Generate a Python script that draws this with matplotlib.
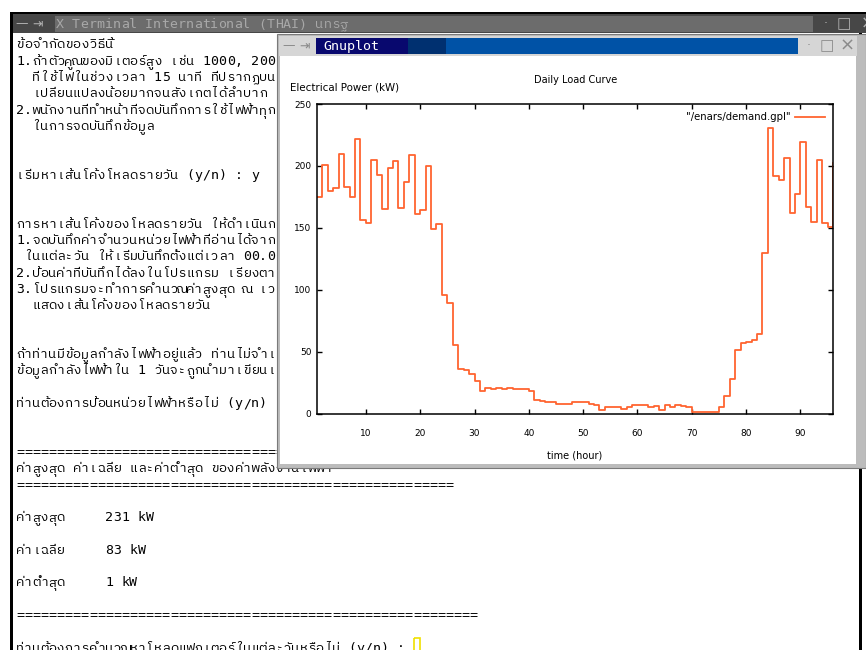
import matplotlib.pyplot as plt
from matplotlib.patches import Rectangle
from matplotlib import font_manager
from matplotlib.ft2font import FT2Font

# data (96 quarter-hour readings, kW)
hours = list(range(1, 97))
demand = [175, 201, 180, 182, 210, 183, 175, 222, 156, 154,
          205, 193, 165, 198, 204, 166, 187, 209, 161, 164,
          200, 149, 153, 96, 89, 55, 36, 35, 32, 26,
          18, 21, 20, 21, 20, 21, 20, 20, 20, 18,
          11, 10, 9, 9, 8, 8, 8, 9, 9, 9,
          8, 7, 3, 5, 5, 5, 4, 5, 7, 7,
          7, 5, 6, 3, 7, 5, 7, 6, 5, 1,
          1, 1, 1, 1, 5, 14, 28, 51, 57, 58,
          59, 64, 130, 231, 192, 189, 206, 162, 177, 219,
          167, 155, 205, 154, 151, 202]
xticks = [10, 20, 30, 40, 50, 60, 70, 80, 90]
yticks = [0, 50, 100, 150, 200, 250]

term_title = "X Terminal International (THAI) นทรฐ"
term_lines = [
    "ข้อจำกัดของวิธีนี้",
    "1.ถ้าตัวคูณของมิเตอร์สูง เช่น 1000, 200",
    "  ที่ใช้ไฟในช่วงเวลา 15 นาที ที่ปรากฏบน",
    "  เปลี่ยนแปลงน้อยมากจนสังเกตได้ลำบาก",
    "2.พนักงานที่ทำหน้าที่จดบันทึกการใช้ไฟฟ้าทุก",
    "  ในการจดบันทึกข้อมูล",
    "",
    "",
    "เริ่มหาเส้นโค้งโหลดรายวัน (y/n) : y",
    "",
    "",
    "การหาเส้นโค้งของโหลดรายวัน ให้ดำเนินก",
    "1.จดบันทึกค่าจำนวนหน่วยไฟฟ้าที่อ่านได้จาก",
    " ในแต่ละวัน ให้เริ่มบันทึกตั้งแต่เวลา 00.0",
    "2.ป้อนค่าที่บันทึกได้ลงในโปรแกรม เรียงตา",
    "3.โปรแกรมจะทำการคำนวณค่าสูงสุด ณ เว",
    "  แสดงเส้นโค้งของโหลดรายวัน",
    "",
    "",
    "ถ้าท่านมีข้อมูลกำลังไฟฟ้าอยู่แล้ว ท่านไม่จำเ",
    "ข้อมูลกำลังไฟฟ้าใน 1 วันจะถูกนำมาเขียนเ",
    "",
    "ท่านต้องการป้อนหน่วยไฟฟ้าหรือไม่ (y/n)",
    "",
    "",
    "=" * 54,
    "ค่าสูงสุด ค่าเฉลี่ย และค่าต่ำสุด ของค่าพลังงานไฟฟ้า",
    "=" * 54,
    "",
    "ค่าสูงสุด     231 kW",
    "",
    "ค่าเฉลี่ย     83 kW",
    "",
    "ค่าต่ำสุด     1 kW",
    "",
    "=" * 57,
    "",
    "ท่านต้องการคำนวณหาโหลดแฟกเตอร์ในแต่ละวันหรือไม่ (y/n) : ",
]

# look for any installed font that has Thai glyphs
thai_font = None
cands = sorted(font_manager.fontManager.ttflist, key=lambda f: 'Thai' not in f.name)
for f in cands:
    try:
        if FT2Font(f.fname).get_char_index(0x0E01):
            thai_font = f.name
            break
    except Exception:
        pass
mono = ['DejaVu Sans Mono'] + ([thai_font] if thai_font else [])

COMBINING = set('\u0e31\u0e34\u0e35\u0e36\u0e37\u0e38\u0e39\u0e3a'
                '\u0e47\u0e48\u0e49\u0e4a\u0e4b\u0e4c\u0e4d\u0e4e')


def cells(s):
    # terminal style: one cell per base char, marks sit on the previous cell
    out = []
    for ch in s:
        if ch in COMBINING and out:
            out[-1] += ch
        else:
            out.append(ch)
    return out


def put_line(a, s, x0, base, cw, **kw):
    cs = cells(s)
    for i, c in enumerate(cs):
        if c.strip():
            a.text(x0 + cw * i + cw / 2, base, c, ha='center', va='baseline', **kw)
    return len(cs)


fig = plt.figure(figsize=(8.66, 6.5), dpi=100)

# ---- terminal window (background) ----
bg = fig.add_axes([0, 0, 1, 1])
bg.set_xlim(0, 866)
bg.set_ylim(650, 0)
bg.axis('off')
bg.add_patch(Rectangle((10, 12), 860, 640, fc='black', ec='none'))
bg.add_patch(Rectangle((13, 14), 856, 19, fc='#474747', ec='none'))
bg.add_patch(Rectangle((55, 16), 758, 16, fc='#6c6c6c', ec='none'))
bg.add_patch(Rectangle((13, 33), 846, 620, fc='white', ec='none'))
bg.add_patch(Rectangle((862, 33), 10, 620, fc='white', ec='none'))
bg.text(22, 24, '—', color='#b0b0b0', fontsize=9, ha='center', va='center')
bg.text(38, 24, '⇥', color='#b0b0b0', fontsize=9, ha='center', va='center')
bg.text(826, 24, '·', color='#b0b0b0', fontsize=9, ha='center', va='center')
bg.text(844, 24, '□', color='#b0b0b0', fontsize=11, ha='center', va='center')
bg.text(861, 24, '×', color='#b0b0b0', fontsize=12, ha='left', va='center')
put_line(bg, term_title, 56, 28.5, 8.1, color='#a8a8a8', fontsize=9.5, family=mono)

cw = 8.1
for i, line in enumerate(term_lines):
    n = put_line(bg, line, 16, 44 + 16.3 * i + 4.5, cw, color='black',
                 fontsize=9.5, family=mono)
# cursor after the last prompt
bg.add_patch(Rectangle((16 + cw * n + 1, 638), cw - 2, 14, fc='none',
                       ec='#f0e000', lw=1.2))

# ---- gnuplot window chrome ----
win = fig.add_axes([0, 0, 1, 1], zorder=1)
win.set_xlim(0, 866)
win.set_ylim(650, 0)
win.axis('off')
win.add_patch(Rectangle((277, 34), 589, 434, fc='#bcbcbc', ec='#7a7a7a', lw=0.8))
win.add_patch(Rectangle((279, 36), 578, 20, fc='#d6d6d6', ec='none'))
win.add_patch(Rectangle((316, 38), 482, 16, fc='#0052a6', ec='none'))
win.add_patch(Rectangle((316, 38), 130, 16, fc='#003070', ec='none'))
win.add_patch(Rectangle((316, 38), 92, 16, fc='#08086e', ec='none'))
win.add_patch(Rectangle((280, 56), 576, 408, fc='white', ec='none'))
win.text(289, 46, '—', color='#8a8a8a', fontsize=9, ha='center', va='center')
win.text(305, 46, '⇥', color='#8a8a8a', fontsize=9, ha='center', va='center')
win.text(809, 46, '·', color='#8a8a8a', fontsize=9, ha='center', va='center')
win.text(827, 46, '□', color='#8a8a8a', fontsize=11, ha='center', va='center')
win.text(847, 46, '×', color='#8a8a8a', fontsize=13, ha='center', va='center')
win.text(323, 46.5, 'Gnuplot', color='white', fontsize=9.5, family='DejaVu Sans Mono',
         ha='left', va='center')
win.text(576, 80, 'Daily Load Curve', fontsize=7, ha='center', va='center')
win.text(290, 88, 'Electrical Power (kW)', fontsize=7.4, ha='left', va='center')
win.text(575, 455, 'time (hour)', fontsize=7, ha='center', va='center')

# ---- the plot itself ----
ax = fig.add_axes([317 / 866, 1 - 413.5 / 650, 516 / 866, 309.5 / 650], zorder=2)
ax.step(hours, demand, where='post', color='#ff6430', lw=1.3,
        label='"/enars/demand.gpl"')
ax.set_xlim(1, 96)
ax.set_ylim(0, 250)
ax.set_xticks(xticks)
ax.set_yticks(yticks)
ax.tick_params(direction='in', top=True, right=True, length=3.5, width=1,
               labelsize=6.5)
ax.tick_params(axis='x', pad=11)
ax.tick_params(axis='y', pad=4)
for s in ax.spines.values():
    s.set_linewidth(1.1)
ax.legend(loc='upper right', frameon=False, markerfirst=False, fontsize=7.3,
          handlelength=2.9, handletextpad=0.5, borderaxespad=0.4)

fig.savefig('out.png', dpi=100)
